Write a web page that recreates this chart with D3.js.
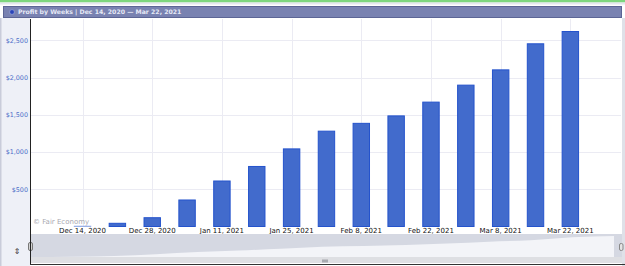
<!DOCTYPE html>
<html>
<head>
<meta charset="utf-8">
<script src="https://cdn.jsdelivr.net/npm/d3@7"></script>
<style>
  html, body { margin: 0; padding: 0; background: #fff; }
  svg { display: block; }
</style>
</head>
<body>
<div id="chart"></div>
<script>
// weekly profit
var weeks = ["2020-12-14", "2020-12-21", "2020-12-28", "2021-01-04", "2021-01-11",
             "2021-01-18", "2021-01-25", "2021-02-01", "2021-02-08", "2021-02-15",
             "2021-02-22", "2021-03-01", "2021-03-08", "2021-03-15", "2021-03-22"];
var profit = [4, 43, 118, 356, 611, 806, 1042, 1280, 1385, 1485, 1670, 1898, 2103, 2453, 2618];
var yTicks = [500, 1000, 1500, 2000, 2500];
var title = "Profit by Weeks | Dec 14, 2020 \u2014 Mar 22, 2021";

var W = 625, H = 266;
var parse = d3.timeParse("%Y-%m-%d"),
    fmt = d3.timeFormat("%b %-d, %Y");

var svg = d3.select("#chart").append("svg")
    .attr("width", W)
    .attr("height", H)
    .style("font-family", "'DejaVu Sans', Verdana, sans-serif");

// top strip + title bar
svg.append("rect").attr("x", 0).attr("y", 0).attr("width", W).attr("height", 2.5).attr("fill", "#7ed67e");
svg.append("rect").attr("x", 0).attr("y", 2.5).attr("width", W).attr("height", 2).attr("fill", "#e4e6ee");
svg.append("rect").attr("x", 3.5).attr("y", 6.5).attr("width", 618).attr("height", 11)
    .attr("fill", "#7982b1").attr("stroke", "#5c6595");
svg.append("circle").attr("cx", 12).attr("cy", 12).attr("r", 2.4)
    .attr("fill", "#2a44b8").attr("stroke", "#aab4e0").attr("stroke-width", 0.6);
svg.append("text").text(title)
    .attr("x", 18).attr("y", 14.4)
    .style("font-size", "6.2px").style("font-weight", "bold")
    .style("fill", "#e6e9f6");

// left panel and right border
svg.append("rect").attr("x", 0).attr("y", 18).attr("width", 30).attr("height", H - 18).attr("fill", "#eef0f7");
svg.append("rect").attr("x", 0).attr("y", 18).attr("width", 1.5).attr("height", H - 18).attr("fill", "#c9ccda");
svg.append("rect").attr("x", 622).attr("y", 18).attr("width", 3).attr("height", H - 18).attr("fill", "#dfe1e8");

var x = d3.scaleBand()
    .domain(weeks)
    .range([47.7, 605.2])
    .paddingInner(0.5)
    .paddingOuter(0.75);

var y = d3.scaleLinear()
    .domain([0, 2500])
    .range([226.5, 40.3]);

// grid
var grid = svg.append("g");
grid.selectAll("line.h")
    .data(yTicks)
    .enter().append("line")
    .attr("x1", 31).attr("x2", 621)
    .attr("y1", function(d) { return Math.round(y(d)) + 0.5; })
    .attr("y2", function(d) { return Math.round(y(d)) + 0.5; })
    .attr("stroke", "#ebebf3");
grid.selectAll("line.v")
    .data(weeks.filter(function(d, i) { return i % 2 == 0; }))
    .enter().append("line")
    .attr("x1", function(d) { return Math.round(x(d) + x.bandwidth() / 2) + 0.5; })
    .attr("x2", function(d) { return Math.round(x(d) + x.bandwidth() / 2) + 0.5; })
    .attr("y1", 19).attr("y2", 227)
    .attr("stroke", "#ebebf3");

// y labels
svg.append("g").selectAll("text")
    .data(yTicks)
    .enter().append("text")
    .text(function(d) { return "$" + d3.format(",")(d); })
    .attr("x", 28).attr("y", function(d) { return y(d) + 2.3; })
    .attr("text-anchor", "end")
    .style("font-size", "6.4px")
    .style("fill", "#4a6cc8");

svg.append("text").text("\u00a9 Fair Economy")
    .attr("x", 33).attr("y", 223.5)
    .style("font-size", "7px").style("fill", "#a8a8b0");

// bars
svg.append("g").selectAll("rect")
    .data(weeks)
    .enter().append("rect")
    .attr("x", function(d) { return x(d) + 0.5; })
    .attr("y", function(d, i) { return y(profit[i]); })
    .attr("width", x.bandwidth() - 1)
    .attr("height", function(d, i) { return y(0) - y(profit[i]); })
    .attr("fill", "#426bcc")
    .attr("stroke", function(d, i) { return profit[i] < 20 ? "#9ab0e6" : "#2453cc"; })
    .attr("stroke-width", 1);

// x labels
svg.append("g").selectAll("text")
    .data(weeks.filter(function(d, i) { return i % 2 == 0; }))
    .enter().append("text")
    .text(function(d) { return fmt(parse(d)); })
    .attr("x", function(d) { return x(d) + x.bandwidth() / 2; })
    .attr("y", 233)
    .attr("text-anchor", "middle")
    .style("font-size", "7px")
    .style("fill", "#111");

// navigator
var navX = d3.scalePoint().domain(weeks).range([31, 614]);
var navY = d3.scaleLinear().domain([0, d3.max(profit)]).range([257, 236]);

svg.append("rect").attr("x", 31).attr("y", 234).attr("width", 591).attr("height", 23).attr("fill", "#d5d8e2");
svg.append("path")
    .datum(weeks)
    .attr("d", d3.area()
        .curve(d3.curveMonotoneX)
        .x(function(d) { return navX(d); })
        .y0(257)
        .y1(function(d, i) { return navY(profit[i]); }))
    .attr("fill", "#f3f4f8");
svg.append("rect").attr("x", 31).attr("y", 257).attr("width", 591).attr("height", 6).attr("fill", "#dedfe3");
svg.append("rect").attr("x", 322).attr("y", 259.5).attr("width", 6).attr("height", 3).attr("fill", "#a8aab0");

// handles
svg.append("rect").attr("x", 28.5).attr("y", 242.5).attr("width", 4).attr("height", 8).attr("rx", 1.5)
    .attr("fill", "#d4d4d4").attr("stroke", "#777");
svg.append("rect").attr("x", 619.5).attr("y", 243.5).attr("width", 3.5).attr("height", 7).attr("rx", 1.5)
    .attr("fill", "#e4e4e4").attr("stroke", "#888");
svg.append("text").text("\u21d5")
    .attr("x", 17).attr("y", 254)
    .attr("text-anchor", "middle")
    .style("font-size", "8px").style("fill", "#333");

// axis frame
svg.append("line").attr("x1", 30.5).attr("x2", 30.5).attr("y1", 19).attr("y2", 265).attr("stroke", "#222");
svg.append("line").attr("x1", 30).attr("x2", W).attr("y1", 264.5).attr("y2", 264.5).attr("stroke", "#333");
</script>
</body>
</html>
